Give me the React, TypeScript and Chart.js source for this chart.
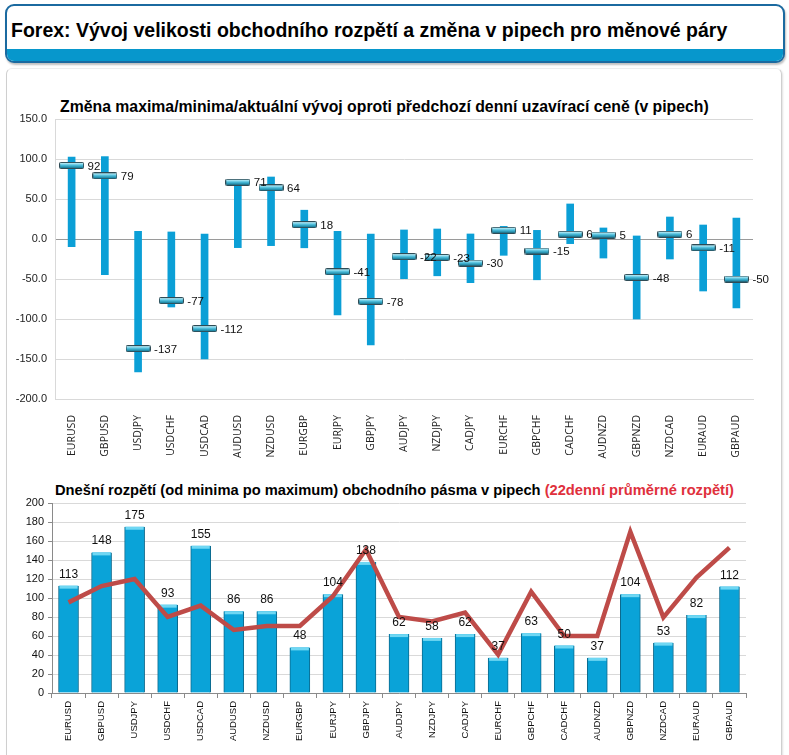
import React, { useEffect, useRef } from "react";
import { Chart, registerables } from "chart.js";
Chart.register(...registerables);

const pairs = ["EURUSD", "GBPUSD", "USDJPY", "USDCHF", "USDCAD", "AUDUSD", "NZDUSD", "EURGBP", "EURJPY", "GBPJPY", "AUDJPY", "NZDJPY", "CADJPY", "EURCHF", "GBPCHF", "CADCHF", "AUDNZD", "GBPNZD", "NZDCAD", "EURAUD", "GBPAUD"];
const dayHigh = [102.5, 103, 9.6, 8.8, 6.3, 73, 77.5, 36, 9.6, 6.3, 11.3, 12.5, 6.3, 15.8, 10.8, 43.8, 13.8, 3.8, 27.5, 17.5, 26.3];
const dayLow = [-9.6, -44.6, -166, -85, -150, -10.8, -8.3, -11, -95, -132.5, -49.6, -46, -54.6, -20.4, -51, -5.8, -23.8, -100, -25, -65, -86];
const current = [92, 79, -137, -77, -112, 71, 64, 18, -41, -78, -22, -23, -30, 11, -15, 6, 5, -48, 6, -11, -50];
const todayRange = [113, 148, 175, 93, 155, 86, 86, 48, 104, 138, 62, 58, 62, 37, 63, 50, 37, 104, 53, 82, 112];
const avgRange22 = [95.4, 112.6, 120, 80, 92, 66.3, 70.5, 70.5, 101.8, 151, 80, 75.4, 84.6, 40.4, 106.7, 60, 60, 169.8, 79.6, 121.4, 153];

const headerTitle = "Forex: Vývoj velikosti obchodního rozpětí a změna v pipech pro měnové páry";
const topTitle = "Změna maxima/minima/aktuální vývoj oproti předchozí denní uzavírací ceně (v pipech)";
const bottomTitleA = "Dnešní rozpětí (od minima po maximum) obchodního pásma v pipech ";
const bottomTitleB = "(22denní průměrné rozpětí)";

function makeMarker(): HTMLCanvasElement {
  const c = document.createElement("canvas");
  c.width = 25;
  c.height = 7;
  const g = c.getContext("2d")!;
  g.fillStyle = "#2e4b55";
  g.beginPath();
  g.moveTo(2, 0);
  g.lineTo(23, 0);
  g.quadraticCurveTo(25, 0, 25, 2);
  g.lineTo(25, 5);
  g.quadraticCurveTo(25, 7, 23, 7);
  g.lineTo(2, 7);
  g.quadraticCurveTo(0, 7, 0, 5);
  g.lineTo(0, 2);
  g.quadraticCurveTo(0, 0, 2, 0);
  g.fill();
  const grad = g.createLinearGradient(0, 1, 0, 6);
  grad.addColorStop(0, "#c4f1fa");
  grad.addColorStop(0.45, "#4fc0de");
  grad.addColorStop(1, "#157c99");
  g.fillStyle = grad;
  g.fillRect(1, 1, 23, 5);
  return c;
}

const FONT = "'Liberation Sans', Arial, sans-serif";

export default function App() {
  const topRef = useRef<HTMLCanvasElement>(null);
  const botRef = useRef<HTMLCanvasElement>(null);

  useEffect(() => {
    const marker = makeMarker();
    const topLabels = {
      id: "topLabels",
      afterDatasetsDraw(chart: any) {
        const meta = chart.getDatasetMeta(0);
        const ctx = chart.ctx;
        ctx.save();
        ctx.font = `11.5px ${FONT}`;
        ctx.fillStyle = "#111";
        ctx.textAlign = "left";
        ctx.textBaseline = "middle";
        meta.data.forEach((el: any, i: number) => {
          ctx.fillText(String(current[i]), el.x + 16, el.y + 1);
        });
        ctx.restore();
      },
    };
    const topChart = new Chart(topRef.current!, {
      type: "bar",
      data: {
        labels: pairs,
        datasets: [
          {
            type: "line",
            data: current,
            showLine: false,
            pointStyle: marker as any,
            pointRadius: 12,
            order: 0,
          } as any,
          {
            type: "bar",
            data: dayHigh.map((h, i) => [dayLow[i], h]),
            backgroundColor: "#0b9fd6",
            barThickness: 7,
            order: 1,
          },
        ],
      },
      options: {
        animation: false,
        responsive: false,
        maintainAspectRatio: false,
        layout: { padding: { left: 0, top: 19, right: 36, bottom: 0 } },
        plugins: { legend: { display: false }, tooltip: { enabled: false }, title: { display: false } },
        scales: {
          x: {
            grid: { display: false },
            border: { display: true, color: "#d9d9d9" },
            ticks: {
              minRotation: 90,
              maxRotation: 90,
              padding: 8,
              color: "#222",
              font: { family: "'Open Sans', sans-serif", size: 10.5 },
              autoSkip: false,
            },
            afterFit: (s: any) => {
              s.height = 71;
            },
          },
          y: {
            min: -200,
            max: 150,
            ticks: {
              stepSize: 50,
              padding: 8,
              color: "#222",
              font: { family: FONT, size: 11 },
              callback: (v: any) => Number(v).toFixed(1),
            },
            grid: {
              drawTicks: false,
              color: (c: any) => (c.tick && c.tick.value === 0 ? "#9a9a9a" : "#d9d9d9"),
            },
            border: { display: true, color: "#d9d9d9" },
            afterFit: (s: any) => {
              s.width = 55;
            },
          },
        },
      },
      plugins: [topLabels],
    });

    const botDecor = {
      id: "botDecor",
      afterDatasetDraw(chart: any, args: any) {
        if (args.index !== 1) return;
        const meta = chart.getDatasetMeta(1);
        const ctx = chart.ctx;
        ctx.save();
        meta.data.forEach((el: any) => {
          const w = el.width;
          ctx.fillStyle = "#6fd7f3";
          ctx.fillRect(el.x - w / 2 + 1, el.y, w - 2, 3);
        });
        ctx.restore();
      },
      afterDatasetsDraw(chart: any) {
        const meta = chart.getDatasetMeta(1);
        const ctx = chart.ctx;
        ctx.save();
        ctx.font = `12px ${FONT}`;
        ctx.fillStyle = "#111";
        ctx.textAlign = "center";
        ctx.textBaseline = "alphabetic";
        meta.data.forEach((el: any, i: number) => {
          ctx.fillText(String(todayRange[i]), el.x, el.y - 8);
        });
        ctx.restore();
      },
    };

    const botChart = new Chart(botRef.current!, {
      type: "bar",
      data: {
        labels: pairs,
        datasets: [
          {
            type: "line",
            data: avgRange22,
            borderColor: "#be4b48",
            borderWidth: 4.5,
            pointRadius: 0,
            tension: 0,
            fill: false,
            order: 0,
          } as any,
          {
            type: "bar",
            data: todayRange,
            backgroundColor: "#0aa3d8",
            borderColor: "#0c6a8e",
            borderWidth: { left: 1, right: 1, top: 0, bottom: 0 },
            borderSkipped: false,
            barThickness: 20,
            order: 1,
          } as any,
        ],
      },
      options: {
        animation: false,
        responsive: false,
        maintainAspectRatio: false,
        layout: { padding: { left: 0, top: 33, right: 43, bottom: 0 } },
        plugins: { legend: { display: false }, tooltip: { enabled: false }, title: { display: false } },
        scales: {
          x: {
            grid: { display: true, drawOnChartArea: false, drawTicks: true, tickLength: 5, tickColor: "#8a8a8a", offset: true },
            border: { display: true, color: "#8a8a8a" },
            ticks: {
              minRotation: 90,
              maxRotation: 90,
              padding: 3,
              color: "#111",
              font: { family: FONT, size: 9.5 },
              autoSkip: false,
            },
            afterFit: (s: any) => {
              s.height = 62;
            },
          },
          y: {
            min: 0,
            max: 200,
            ticks: {
              stepSize: 20,
              padding: 4,
              color: "#111",
              font: { family: FONT, size: 11 },
            },
            grid: { color: "#d9d9d9", drawTicks: true, tickLength: 4, tickColor: "#8a8a8a" },
            border: { display: true, color: "#8a8a8a" },
            afterFit: (s: any) => {
              s.width = 52;
            },
          },
        },
      },
      plugins: [botDecor],
    });

    return () => {
      topChart.destroy();
      botChart.destroy();
    };
  }, []);

  return (
    <div style={{ position: "absolute", left: 0, top: 0, width: 789, height: 755, background: "#fff", overflow: "hidden", fontFamily: FONT }}>
      <div
        style={{
          position: "absolute",
          left: 6,
          top: 68,
          width: 776,
          height: 700,
          boxSizing: "border-box",
          border: "1px solid #cfcfcf",
          borderTopColor: "#eeeeee",
          borderRadius: 6,
          boxShadow: "1px 1px 2px rgba(0,0,0,0.12)",
        }}
      />
      <div
        style={{
          position: "absolute",
          left: 5,
          top: 4,
          width: 780,
          height: 59,
          boxSizing: "border-box",
          border: "2px solid #1b6aa0",
          borderRadius: 9,
          overflow: "hidden",
          background: "#fff",
          boxShadow: "1px 2px 2px rgba(0,0,0,0.25)",
        }}
      >
        <div style={{ position: "absolute", left: 0, right: 0, bottom: 0, height: 12, background: "#0797cc" }} />
        <div style={{ position: "absolute", left: 4, top: 13, fontSize: 19.5, lineHeight: "22px", fontWeight: "bold", color: "#000", whiteSpace: "nowrap" }}>
          {headerTitle}
        </div>
      </div>
      <div style={{ position: "absolute", left: 60, top: 98, fontSize: 15.8, lineHeight: "18px", fontWeight: "bold", color: "#000", whiteSpace: "nowrap" }}>
        {topTitle}
      </div>
      <div style={{ position: "absolute", left: 55, top: 481, fontSize: 14.7, lineHeight: "18px", fontWeight: "bold", color: "#000", whiteSpace: "nowrap" }}>
        {bottomTitleA}
        <span style={{ color: "#e0303c" }}>{bottomTitleB}</span>
      </div>
      <canvas ref={topRef} width={789} height={370} style={{ position: "absolute", left: 0, top: 100, width: 789, height: 370 }} />
      <canvas ref={botRef} width={789} height={285} style={{ position: "absolute", left: 0, top: 470, width: 789, height: 285 }} />
    </div>
  );
}
